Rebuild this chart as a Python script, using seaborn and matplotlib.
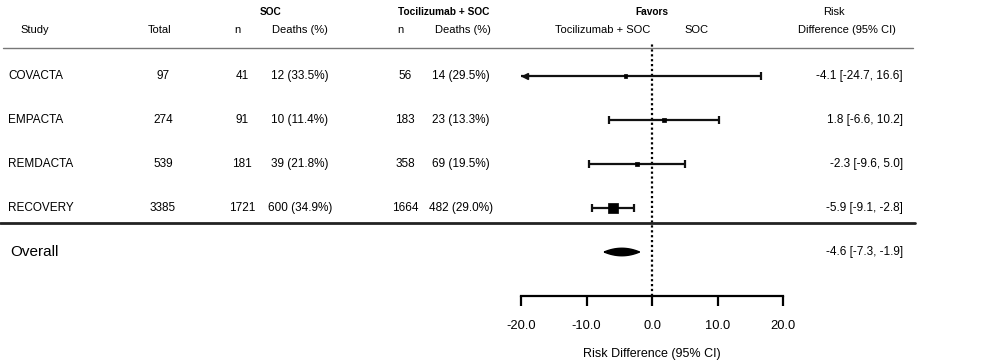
import numpy as np
import pandas as pd
import matplotlib
matplotlib.use("Agg")
import matplotlib.pyplot as plt
from matplotlib.lines import Line2D
from matplotlib.transforms import blended_transform_factory
import seaborn as sns

# ---------------- data ----------------
studies = ["COVACTA", "EMPACTA", "REMDACTA", "RECOVERY"]
total = [97, 274, 539, 3385]
soc_n = [41, 91, 181, 1721]
soc_deaths = ["12 (33.5%)", "10 (11.4%)", "39 (21.8%)", "600 (34.9%)"]
toc_n = [56, 183, 358, 1664]
toc_deaths = ["14 (29.5%)", "23 (13.3%)", "69 (19.5%)", "482 (29.0%)"]
rd = [-4.1, 1.8, -2.3, -5.9]
rd_lo = [-24.7, -6.6, -9.6, -9.1]
rd_hi = [16.6, 10.2, 5.0, -2.8]
weights = [3, 6, 10, 81]
overall_label = "Overall"
overall_rd = -4.6
overall_lo = -7.3
overall_hi = -1.9
xticks = [-20, -10, 0, 10, 20]

# ---------------- style ----------------
sns.set_theme(style="white")
plt.rcParams["font.family"] = ["Liberation Sans", "DejaVu Sans"]
plt.rcParams["text.color"] = "black"
plt.rcParams["axes.labelcolor"] = "black"
plt.rcParams["xtick.color"] = "black"

W, H = 981, 362
fig = plt.figure(figsize=(W / 100, H / 100), dpi=100)


def fx(p):
    return p / W


def fy(p):
    return 1 - p / H


# forest axes: x -20..20 at pixels 521..783, y pixels 43..296
ax = fig.add_axes([fx(521), fy(296), fx(783) - fx(521), (296 - 43) / H])

df = pd.DataFrame({
    "study": studies, "rd": rd, "lo": rd_lo, "hi": rd_hi,
    "weight": weights, "row": np.arange(len(studies), dtype=float),
})

xmin, xmax = xticks[0], xticks[-1]

# reference line
ax.axvline(0, color="black", lw=1.6, ls=(0, (1, 1.2)), zorder=1)

# confidence intervals
err_lo = df["rd"] - df["lo"]
err_hi = df["hi"] - df["rd"]
ax.errorbar(df["rd"], df["row"], xerr=[err_lo, err_hi], fmt="none",
            ecolor="#111111", elinewidth=1.6, capsize=3, capthick=1.6, zorder=2)

# arrows for intervals beyond the axis
for _, r in df.iterrows():
    if r["lo"] < xmin:
        ax.plot(xmin + 0.6, r["row"], marker="<", ms=5, color="#111111",
                mec="#111111", clip_on=False, zorder=3)
    if r["hi"] > xmax:
        ax.plot(xmax - 0.6, r["row"], marker=">", ms=5, color="#111111",
                clip_on=False, zorder=3)

# point estimates, sized by weight
sns.scatterplot(data=df, x="rd", y="row", size="weight", sizes=(5, 50),
                marker="s", color="black", edgecolor="black", linewidth=0.5,
                legend=False, ax=ax, zorder=4)

# overall lens/diamond
orow = len(studies)
t = np.linspace(-1, 1, 41)
half = (overall_hi - overall_lo) / 2
mid = overall_lo + half
h = 0.085
xs = np.concatenate([mid + half * t, mid + half * t[::-1]])
ys = np.concatenate([orow - h * (1 - t ** 2), orow + h * (1 - t[::-1] ** 2)])
ax.fill(xs, ys, color="black", zorder=4)

ax.set_xlim(xmin, xmax)
ax.set_ylim((296 - 76) / 44, (43 - 76) / 44)
ax.set_yticks([])
ax.set_xticks(xticks)
ax.set_xticklabels([f"{v:.1f}" for v in xticks], fontsize=9.3)
ax.tick_params(axis="x", direction="out", length=7.5, width=1.6,
               color="black", pad=10, bottom=True)
ax.set_xlabel("Risk Difference (95% CI)", fontsize=9, labelpad=11)
ax.set_ylabel("")
for s in ["top", "left", "right"]:
    ax.spines[s].set_visible(False)
ax.spines["bottom"].set_color("black")
ax.spines["bottom"].set_linewidth(1.6)
ax.patch.set_alpha(0)

# ---------------- table text ----------------
tr = blended_transform_factory(fig.transFigure, ax.transData)
fs = 8.5
for i in range(len(studies)):
    ax.text(fx(8), i, studies[i], transform=tr, ha="left", va="center", fontsize=fs, clip_on=False)
    ax.text(fx(163), i, str(total[i]), transform=tr, ha="center", va="center", fontsize=fs, clip_on=False)
    ax.text(fx(242), i, str(soc_n[i]), transform=tr, ha="center", va="center", fontsize=fs, clip_on=False)
    ax.text(fx(300), i, soc_deaths[i], transform=tr, ha="center", va="center", fontsize=fs, clip_on=False)
    ax.text(fx(405), i, str(toc_n[i]), transform=tr, ha="center", va="center", fontsize=fs, clip_on=False)
    ax.text(fx(461), i, toc_deaths[i], transform=tr, ha="center", va="center", fontsize=fs, clip_on=False)
    ax.text(fx(903), i, f"{rd[i]:.1f} [{rd_lo[i]:.1f}, {rd_hi[i]:.1f}]", transform=tr,
            ha="right", va="center", fontsize=fs, clip_on=False)

ax.text(fx(10), orow, overall_label, transform=tr, ha="left", va="center", fontsize=11, clip_on=False)
ax.text(fx(903), orow, f"{overall_rd:.1f} [{overall_lo:.1f}, {overall_hi:.1f}]", transform=tr,
        ha="right", va="center", fontsize=fs, clip_on=False)

# ---------------- headers ----------------
hfs = 8
fig.text(fx(271), fy(12), "SOC", ha="center", va="center", fontsize=7.3, fontweight="bold")
fig.text(fx(444), fy(12), "Tocilizumab + SOC", ha="center", va="center", fontsize=7.3, fontweight="bold")
fig.text(fx(652), fy(12), "Favors", ha="center", va="center", fontsize=7.3, fontweight="bold")
fig.text(fx(834), fy(12), "Risk", ha="center", va="center", fontsize=hfs)
fig.text(fx(20), fy(30), "Study", ha="left", va="center", fontsize=hfs)
fig.text(fx(160), fy(30), "Total", ha="center", va="center", fontsize=hfs)
fig.text(fx(237), fy(30), "n", ha="center", va="center", fontsize=hfs)
fig.text(fx(300), fy(30), "Deaths (%)", ha="center", va="center", fontsize=hfs)
fig.text(fx(400), fy(30), "n", ha="center", va="center", fontsize=hfs)
fig.text(fx(463), fy(30), "Deaths (%)", ha="center", va="center", fontsize=hfs)
fig.text(fx(603), fy(30), "Tocilizumab + SOC", ha="center", va="center", fontsize=hfs)
fig.text(fx(697), fy(30), "SOC", ha="center", va="center", fontsize=hfs)
fig.text(fx(847), fy(30), "Difference (95% CI)", ha="center", va="center", fontsize=hfs)

# rules
fig.add_artist(Line2D([fx(3), fx(913)], [fy(48), fy(48)], color="#777777", lw=1.0))
fig.add_artist(Line2D([fx(0), fx(915)], [fy(223), fy(223)], color="#222222", lw=2.0))

fig.savefig("out.png", dpi=100)
